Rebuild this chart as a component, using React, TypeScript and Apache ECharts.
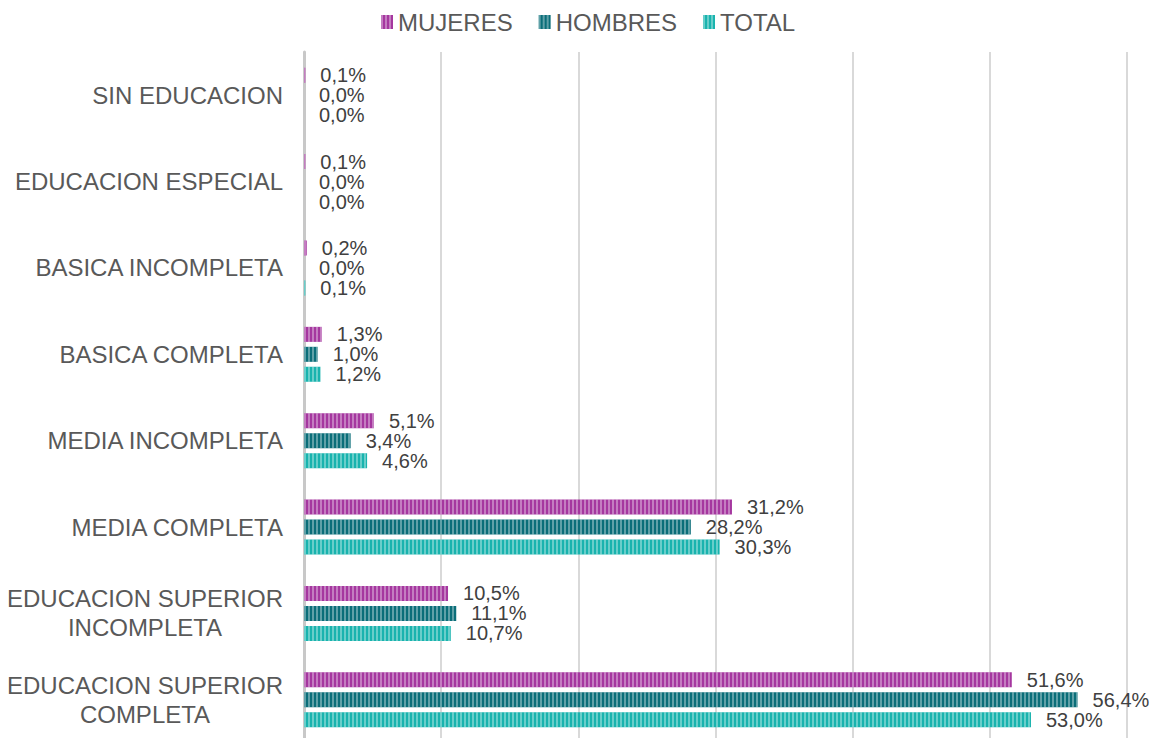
import React, { useEffect, useRef } from "react";
import * as echarts from "echarts";

const categories = [
  "SIN EDUCACION",
  "EDUCACION ESPECIAL",
  "BASICA INCOMPLETA",
  "BASICA COMPLETA",
  "MEDIA INCOMPLETA",
  "MEDIA COMPLETA",
  "EDUCACION SUPERIOR\nINCOMPLETA",
  "EDUCACION SUPERIOR\nCOMPLETA",
];
const mujeres = [0.1, 0.1, 0.2, 1.3, 5.1, 31.2, 10.5, 51.6];
const hombres = [0.0, 0.0, 0.0, 1.0, 3.4, 28.2, 11.1, 56.4];
const total = [0.0, 0.0, 0.1, 1.2, 4.6, 30.3, 10.7, 53.0];
const seriesNames = ["MUJERES", "HOMBRES", "TOTAL"];
const seriesColors = ["#A5379F", "#0B6E79", "#19B3AE"];

const fmt = (v: number) => v.toFixed(1).replace(".", ",") + "%";

export default function App() {
  const ref = useRef<HTMLDivElement>(null);
  useEffect(() => {
    if (!ref.current) return;
    const chart = echarts.init(ref.current, undefined, { renderer: "svg" });
    const decal = {
      symbol: "rect",
      symbolSize: 1,
      dashArrayX: [2, 2],
      dashArrayY: [10, 0],
      rotation: 0,
      color: "rgba(255,255,255,0.35)",
    };
    const datas = [mujeres, hombres, total];
    chart.setOption({
      animation: false,
      textStyle: { fontFamily: "Liberation Sans, Arial, sans-serif" },
      legend: {
        top: 5,
        left: 376,
        itemWidth: 12,
        itemHeight: 14,
        itemGap: 26,
        icon: "rect",
        textStyle: { color: "#595959", fontSize: 24, fontFamily: "Liberation Sans, Arial, sans-serif" },
        data: seriesNames,
      },
      grid: { left: 304, right: 26, top: 52, bottom: 7 },
      xAxis: {
        type: "value",
        min: 0,
        max: 60,
        interval: 10,
        axisLabel: { show: false },
        axisLine: { show: false },
        axisTick: { show: false },
        splitLine: { lineStyle: { color: "#d9d9d9", width: 2 } },
      },
      yAxis: {
        type: "category",
        inverse: true,
        data: categories,
        axisTick: { show: false },
        axisLine: { lineStyle: { color: "#c8c8c8", width: 3 } },
        axisLabel: {
          margin: 21,
          color: "#595959",
          fontSize: 24,
          lineHeight: 29,
          fontFamily: "Liberation Sans, Arial, sans-serif",
          formatter: (v: string) =>
            v.includes("\n")
              ? v
                  .split("\n")
                  .map((s) => "{m|" + s + "}")
                  .join("\n")
              : v,
          rich: {
            m: {
              width: 276,
              align: "center",
              fontSize: 24,
              lineHeight: 29,
              color: "#595959",
              fontFamily: "Liberation Sans, Arial, sans-serif",
            },
          },
        },
      },
      series: seriesNames.map((name, i) => ({
        name,
        type: "bar",
        data: datas[i],
        barWidth: 15,
        barGap: "33%",
        itemStyle: { color: seriesColors[i], decal },
        label: {
          show: true,
          position: "right",
          distance: 15,
          color: "#404040",
          fontSize: 20,
          fontFamily: "Liberation Sans, Arial, sans-serif",
          formatter: (p: any) => fmt(p.value),
        },
      })),
    });
    return () => chart.dispose();
  }, []);
  return (
    <div
      ref={ref}
      style={{ position: "fixed", left: 0, top: 0, width: 1153, height: 750, background: "#fff" }}
    />
  );
}
